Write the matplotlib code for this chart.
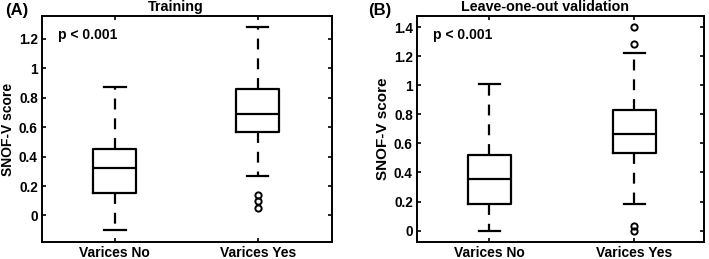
import matplotlib
matplotlib.use("Agg")
import matplotlib.pyplot as plt

plt.rcParams['font.family'] = ['Liberation Sans', 'DejaVu Sans']
plt.rcParams['font.weight'] = 'bold'

# ---------- DATA ----------
groups = ['Varices No', 'Varices Yes']

# (A) Training
train_whislo = [-0.10, 0.27]
train_q1 = [0.156, 0.569]
train_med = [0.322, 0.691]
train_q3 = [0.453, 0.857]
train_whishi = [0.871, 1.281]
train_fliers = [[], [0.14, 0.10, 0.05]]

# (B) Leave-one-out validation
loo_whislo = [0.0, 0.183]
loo_q1 = [0.183, 0.532]
loo_med = [0.355, 0.662]
loo_q3 = [0.518, 0.832]
loo_whishi = [1.008, 1.223]
loo_fliers = [[], [1.40, 1.283, 0.035, 0.0]]


def make_stats(lo, q1, med, q3, hi, fl):
    stats = []
    for i in range(len(groups)):
        stats.append(dict(whislo=lo[i], q1=q1[i], med=med[i], q3=q3[i],
                          whishi=hi[i], fliers=fl[i], label=groups[i]))
    return stats


def draw_panel(ax, stats, title, yticks, ylim, xlim, title_x, ylab_size):
    lw = 1.6
    ax.bxp(stats, positions=[1, 2], widths=0.3, showfliers=True,
           boxprops=dict(color='black', linewidth=lw),
           medianprops=dict(color='black', linewidth=lw),
           whiskerprops=dict(color='black', linewidth=lw, linestyle=(0, (4.9, 4.0))),
           capprops=dict(color='black', linewidth=lw),
           flierprops=dict(marker='o', markerfacecolor='none', markeredgecolor='black',
                           markersize=4.5, markeredgewidth=1.4))
    ax.set_xlim(xlim)
    ax.set_ylim(ylim)
    ax.set_yticks(yticks)
    ax.set_yticklabels(['%g' % v for v in yticks], fontsize=9.8, fontweight='bold')
    ax.set_xticks([1, 2])
    ax.set_xticklabels(groups, fontsize=10, fontweight='bold')
    ax.tick_params(direction='in', length=3, width=1.2, top=True, right=True, pad=3)
    for s in ax.spines.values():
        s.set_linewidth(1.4)
    ax.set_ylabel('SNOF-V score', fontsize=ylab_size, fontweight='bold', labelpad=3)
    ax.text(title_x, 1.04, title, transform=ax.transAxes, ha='center', va='center',
            fontsize=10.3, fontweight='bold')
    ax.text(0.055, 0.916, 'p < 0.001', transform=ax.transAxes, ha='left', va='center',
            fontsize=10, fontweight='bold')
    return ax


fig = plt.figure(figsize=(7.09, 2.59), dpi=100)
axA = fig.add_axes([42 / 709, 17 / 259, 290 / 709, 226 / 259])
axB = fig.add_axes([417 / 709, 17 / 259, 287 / 709, 226 / 259])

draw_panel(axA, make_stats(train_whislo, train_q1, train_med, train_q3, train_whishi, train_fliers),
           'Training', [0, 0.2, 0.4, 0.6, 0.8, 1, 1.2], (-0.18, 1.355), (0.49, 2.52), 0.462, 10)
draw_panel(axB, make_stats(loo_whislo, loo_q1, loo_med, loo_q3, loo_whishi, loo_fliers),
           'Leave-one-out validation', [0, 0.2, 0.4, 0.6, 0.8, 1, 1.2, 1.4],
           (-0.078, 1.476), (0.5, 2.48), 0.446, 11)

fig.text(16.5 / 709, 1 - 11 / 259, '(A)', ha='center', va='center', fontsize=12, fontweight='bold')
fig.text(379.5 / 709, 1 - 11 / 259, '(B)', ha='center', va='center', fontsize=12, fontweight='bold')

fig.savefig('out.png', dpi=100)
